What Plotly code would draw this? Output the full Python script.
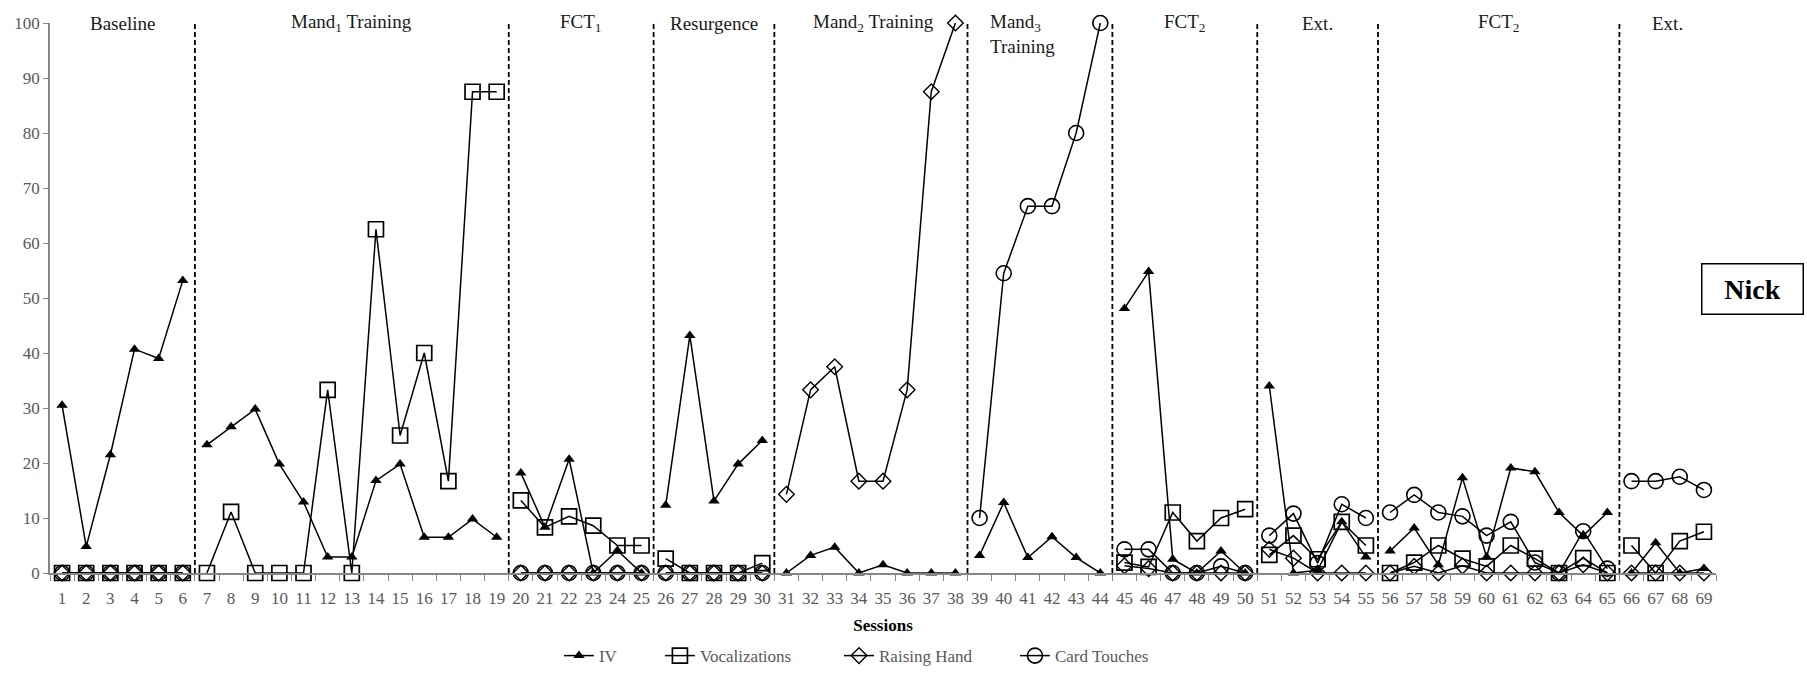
import plotly.graph_objects as go

# ---- data -------------------------------------------------------------
sessions = list(range(1, 70))

# condition changes fall between these sessions
phase_edges = [6.5, 19.5, 25.5, 30.5, 38.5, 44.5, 50.5, 55.5, 65.5]
phase_labels = ["Baseline", "Mand<sub>1</sub> Training", "FCT<sub>1</sub>", "Resurgence",
                "Mand<sub>2</sub> Training", "Mand<sub>3</sub>", "FCT<sub>2</sub>", "Ext.",
                "FCT<sub>2</sub>", "Ext."]
phase_label_x = [3.5, 13.0, 22.5, 28.0, 34.6, 39.35, 47.5, 53.0, 60.5, 67.5]

iv = [30.5, 4.8, 21.5, 40.7, 39.0, 53.2,
      23.3, 26.6, 29.8, 19.8, 12.9, 2.9, 2.9, 16.8, 19.8, 6.5, 6.5, 9.8, 6.5,
      18.2, 8.3, 20.7, 0, 4.1, 0,
      12.3, 43.2, 13.1, 19.8, 24.1,
      0, 3.2, 4.7, 0, 1.5, 0, 0, 0,
      3.2, 12.8, 2.8, 6.6, 2.8, 0,
      48.1, 54.8, 2.5, 0, 4.0, 0,
      34.0, 0, 0.5, 9.3, 2.9,
      4.0, 8.2, 1.5, 17.3, 2.9, 19.1, 18.4, 11.0, 6.8, 11.0,
      0, 5.5, 0, 0.8]

vocalizations = [0, 0, 0, 0, 0, 0,
                 0, 11.1, 0, 0, 0, 33.3, 0, 62.5, 25.0, 40.0, 16.7, 87.5, 87.5,
                 13.2, 8.3, 10.3, 8.6, 5.0, 5.0,
                 2.6, 0, 0, 0, 1.8,
                 None, None, None, None, None, None, None, None,
                 None, None, None, None, None, None,
                 1.9, 1.1, 11.0, 5.8, 10.0, 11.6,
                 3.3, 6.8, 2.5, 9.3, 5.0,
                 0, 1.9, 5.0, 2.6, 1.2, 5.0, 2.6, 0, 2.7, 0,
                 5.0, 0, 5.8, 7.5]

raising_hand = [0, 0, 0, 0, 0, 0,
                None, None, None, None, None, None, None, None, None, None, None, None, None,
                0, 0, 0, 0, 0, 0,
                0, 0, 0, 0, 0,
                14.3, 33.3, 37.5, 16.7, 16.7, 33.3, 87.5, 100,
                None, None, None, None, None, None,
                1.3, 0.8, 0, 0, 0, 0,
                4.3, 2.7, 0, 0, 0,
                0, 1.2, 0, 1.3, 0, 0, 0, 0, 1.5, 0,
                0, 0, 0, 0]

card_touches = [0, 0, 0, 0, 0, 0,
                None, None, None, None, None, None, None, None, None, None, None, None, None,
                0, 0, 0, 0, 0, 0,
                0, 0, 0, 0, 0,
                None, None, None, None, None, None, None, None,
                10.0, 54.5, 66.7, 66.7, 80.0, 100,
                4.3, 4.3, 0, 0, 1.2, 0,
                6.8, 10.8, 1.8, 12.5, 10.0,
                11.0, 14.2, 11.0, 10.3, 6.8, 9.3, 1.9, 0, 7.6, 0.8,
                16.7, 16.7, 17.5, 15.1]

# ---- helpers ------------------------------------------------------------
def split_phases(values):
    """Insert a gap at every condition change so lines do not cross them."""
    xs, ys = [], []
    prev = None
    for s, v in zip(sessions, values):
        if prev is not None and any(prev < e < s for e in phase_edges):
            xs.append(None)
            ys.append(None)
        xs.append(s)
        ys.append(v)
        prev = s
    return xs, ys

SERIF = "Liberation Serif, Times New Roman, serif"
GREY = "#595959"

series = [
    ("IV", iv, dict(symbol="triangle-up", size=10, color="black",
                    line=dict(width=0))),
    ("Vocalizations", vocalizations, dict(symbol="square-open", size=15, color="black",
                                          line=dict(width=1.7, color="black"))),
    ("Raising Hand", raising_hand, dict(symbol="diamond-open", size=12, color="black",
                                        line=dict(width=1.4, color="black"))),
    ("Card Touches", card_touches, dict(symbol="circle-open", size=15, color="black",
                                        line=dict(width=1.6, color="black"))),
]
# each legend entry gets its own legend box so the entries can be spaced freely
legend_ids = ["legend", "legend2", "legend3", "legend4"]
legend_x = [0.3055, 0.3661, 0.4736, 0.5792]

fig = go.Figure()
for (name, vals, marker), lid in zip(series, legend_ids):
    xs, ys = split_phases(vals)
    fig.add_trace(go.Scatter(
        x=xs, y=ys, name=name, mode="lines+markers",
        line=dict(color="black", width=1.5),
        marker=marker, connectgaps=False, cliponaxis=False, legend=lid,
    ))

# dashed condition-change lines
for e in phase_edges:
    fig.add_shape(type="line", xref="x", yref="y", x0=e, x1=e, y0=0, y1=100,
                  line=dict(color="black", width=1.8, dash="5px,3px"))

# condition labels
for lbl, lx in zip(phase_labels, phase_label_x):
    is_mand3 = lbl.startswith("Mand<sub>3")
    fig.add_annotation(x=lx, y=100, xref="x", yref="y", text=lbl, showarrow=False,
                       xanchor="left" if is_mand3 else "center", yanchor="middle",
                       font=dict(family=SERIF, size=19, color="#1a1a1a"))
fig.add_annotation(x=39.35, y=100, xref="x", yref="y", text="Training", showarrow=False,
                   xanchor="left", yanchor="middle", yshift=-23,
                   font=dict(family=SERIF, size=19, color="#1a1a1a"))

# participant tag
fig.add_annotation(x=1.0222, y=0.516, xref="paper", yref="paper", text="<b>Nick</b>",
                   showarrow=False, xanchor="center", yanchor="middle",
                   width=94, height=43, borderpad=3, align="center",
                   bordercolor="black", borderwidth=1.5, bgcolor="white",
                   font=dict(family=SERIF, size=28, color="black"))

legend_style = dict(orientation="h", xanchor="left", y=-0.151, yanchor="middle",
                    font=dict(family=SERIF, size=17, color=GREY), itemwidth=30,
                    bgcolor="rgba(0,0,0,0)", borderwidth=0)

fig.update_layout(
    width=1807, height=686,
    margin=dict(l=50, r=91, t=23, b=98),
    paper_bgcolor="white", plot_bgcolor="white",
    showlegend=True,
    legend=dict(x=legend_x[0], **legend_style),
    legend2=dict(x=legend_x[1], **legend_style),
    legend3=dict(x=legend_x[2], **legend_style),
    legend4=dict(x=legend_x[3], **legend_style),
    xaxis=dict(
        range=[0.5, 69.5], tickmode="array", tickvals=sessions,
        ticktext=[str(s) for s in sessions],
        ticks="outside", ticklen=9, tickcolor="rgba(0,0,0,0)",
        minor=dict(tickmode="linear", tick0=0.5, dtick=1, ticks="outside",
                   ticklen=6, tickcolor="#868686", tickwidth=1),
        showline=True, linecolor="#868686", linewidth=1.5,
        showgrid=False, zeroline=False,
        tickfont=dict(family=SERIF, size=17, color=GREY),
        title=dict(text="<b>Sessions</b>", standoff=12,
                   font=dict(family=SERIF, size=17, color="black")),
    ),
    yaxis=dict(
        range=[0, 100], tickmode="linear", tick0=0, dtick=10,
        ticks="outside", ticklen=5, tickcolor="#868686",
        showline=True, linecolor="#868686", linewidth=1.5,
        showgrid=False, zeroline=False,
        tickfont=dict(family=SERIF, size=17, color=GREY),
    ),
)

fig.write_html("out.html")
